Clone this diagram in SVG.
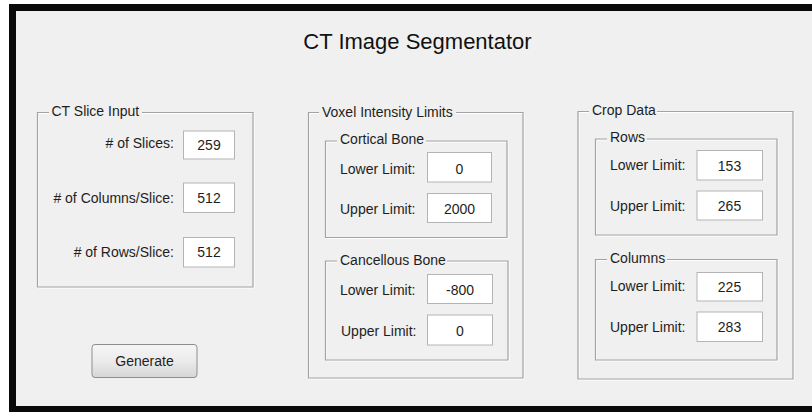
<svg xmlns="http://www.w3.org/2000/svg" width="812" height="412" viewBox="0 0 812 412">
<defs>
<linearGradient id="btn" x1="0" y1="0" x2="0" y2="1">
<stop offset="0" stop-color="#f6f6f6"/>
<stop offset="0.5" stop-color="#ebebeb"/>
<stop offset="1" stop-color="#d6d6d6"/>
</linearGradient>
</defs>
<style>
text{font-family:"Liberation Sans",Arial,sans-serif;font-size:14px;fill:#1e1e1e}
.title{font-size:22px;fill:#111}
.fr{fill:none;stroke:#a3a3a3;stroke-width:1.2}
.frw{fill:none;stroke:#ffffff;stroke-width:1}
.box{fill:#ffffff;stroke:#b4b4b4;stroke-width:1}
.val{text-anchor:middle}
.lbr{text-anchor:end}
</style>
<rect x="0" y="0" width="812" height="412" fill="#ffffff"/>
<rect x="9" y="4" width="803" height="408" fill="#0a0a0a"/>
<rect x="16" y="11" width="796" height="395" fill="#f0f0f0"/>
<text class="title" x="417.5" y="49" text-anchor="middle">CT Image Segmentator</text>

<g id="ct-slice-input">
<path class="frw" d="M49 113.5 H38.5 V288 H254 V113.5 H142"/>
<path class="fr" d="M49 112.5 H37.5 V287 H253 V112.5 H142"/>
<text x="51.5" y="116">CT Slice Input</text>
<text class="lbr" x="174" y="148">#&#160;of Slices:</text>
<rect class="box" x="183.5" y="131" width="51" height="28"/>
<text class="val" x="209" y="150">259</text>
<text class="lbr" x="174" y="203">#&#160;of Columns/Slice:</text>
<rect class="box" x="183.5" y="183" width="51" height="29.5"/>
<text class="val" x="209" y="203">512</text>
<text class="lbr" x="174" y="257">#&#160;of Rows/Slice:</text>
<rect class="box" x="183.5" y="237.5" width="51" height="29.5"/>
<text class="val" x="209" y="257">512</text>
</g>

<g id="generate-button">
<rect x="92" y="344.5" width="105" height="33" rx="3" ry="3" fill="url(#btn)" stroke="#8e8e8e" stroke-width="1"/>
<text class="val" x="144.5" y="366">Generate</text>
</g>

<g id="voxel-intensity-limits">
<path class="frw" d="M319 113.5 H309.5 V379 H524 V113.5 H456"/>
<path class="fr" d="M319 112.5 H308.5 V378 H523 V112.5 H456"/>
<text x="322" y="117">Voxel Intensity Limits</text>
</g>

<g id="cortical-bone">
<path class="frw" d="M337 142 H326.5 V238.5 H508 V142 H426"/>
<path class="fr" d="M337 141 H325.5 V237.5 H507 V141 H426"/>
<text x="340" y="144">Cortical Bone</text>
<text x="340" y="173.5">Lower Limit:</text>
<rect class="box" x="427.5" y="152.5" width="64" height="29.5"/>
<text class="val" x="459.5" y="173.5">0</text>
<text x="340" y="213.5">Upper Limit:</text>
<rect class="box" x="427.5" y="193.5" width="64" height="29"/>
<text class="val" x="459.5" y="213.5">2000</text>
</g>

<g id="cancellous-bone">
<path class="frw" d="M337 262 H326.5 V361 H509 V262 H447"/>
<path class="fr" d="M337 261 H325.5 V360 H508 V261 H447"/>
<text x="340" y="264.5">Cancellous Bone</text>
<text x="340" y="295">Lower Limit:</text>
<rect class="box" x="427.5" y="274.5" width="65" height="29"/>
<text class="val" x="460" y="295">-800</text>
<text x="341" y="335.5">Upper Limit:</text>
<rect class="box" x="427.5" y="315" width="65" height="30"/>
<text class="val" x="460" y="335.5">0</text>
</g>

<g id="crop-data">
<path class="frw" d="M589 112.5 H579 V380 H794 V112.5 H657"/>
<path class="fr" d="M589 111.5 H578 V379 H793 V111.5 H657"/>
<text x="592" y="115">Crop Data</text>
</g>

<g id="rows">
<path class="frw" d="M607 140 H596.5 V236 H778 V140 H647"/>
<path class="fr" d="M607 139 H595.5 V235 H777 V139 H647"/>
<text x="610" y="141.5">Rows</text>
<text x="610" y="170">Lower Limit:</text>
<rect class="box" x="697" y="150.5" width="65.5" height="29.5"/>
<text class="val" x="729.5" y="170.5">153</text>
<text x="610" y="210.5">Upper Limit:</text>
<rect class="box" x="697" y="191" width="65.5" height="29"/>
<text class="val" x="729.5" y="211">265</text>
</g>

<g id="columns">
<path class="frw" d="M607 260.5 H596.5 V361 H778 V260.5 H667"/>
<path class="fr" d="M607 259.5 H595.5 V360 H777 V259.5 H667"/>
<text x="610" y="262.5">Columns</text>
<text x="610" y="291">Lower Limit:</text>
<rect class="box" x="697" y="272.5" width="65.5" height="28.5"/>
<text class="val" x="729.5" y="292">225</text>
<text x="610" y="331.5">Upper Limit:</text>
<rect class="box" x="697" y="312" width="65.5" height="29.5"/>
<text class="val" x="729.5" y="332">283</text>
</g>
<g id="connectors"/>
</svg>
